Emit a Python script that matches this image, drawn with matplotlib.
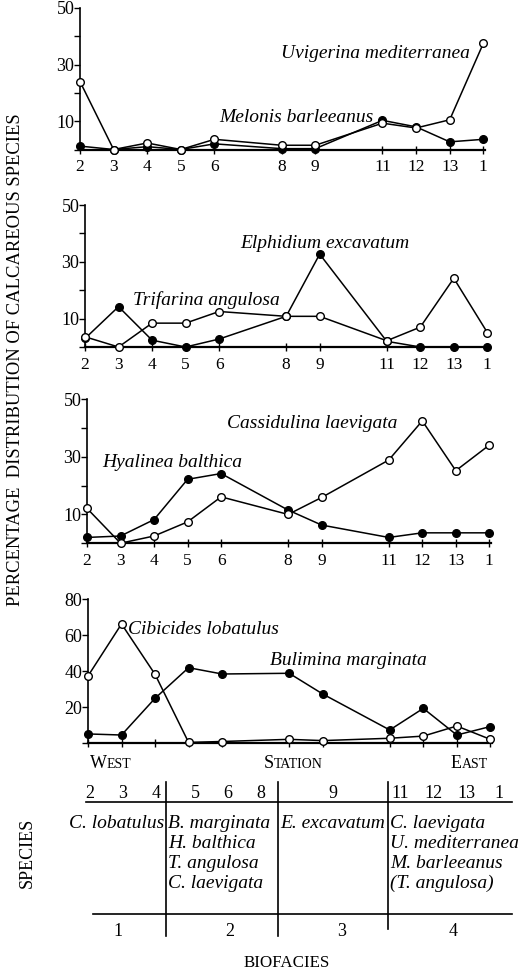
import matplotlib.pyplot as plt

plt.rcParams['font.family'] = ['Liberation Serif', 'DejaVu Serif']

# stations along the transect, west -> east (slot = position on the transect)
stations = ["2", "3", "4", "5", "6", "8", "9", "11", "12", "13", "1"]
slot = [0, 1, 2, 3, 4, 6, 7, 9, 10, 11, 12]

# percentages
uvigerina = [24, 0, 2.3, 0, 3.6, 1.5, 1.5, 9.3, 7.6, 10.5, 37.5]
melonis = [1.2, 0, 1, 0, 2, 0.3, 0.3, 10.3, 8, 2.7, 3.6]
trifarina = [3.6, 0, 8.4, 8.4, 12.5, 10.8, 10.8, 2.2, 7, 24.2, 5.1]
elphidium = [3, 14.2, 2.4, 0, 2.8, 10.8, 32.7, 2, 0, 0, 0]
cassidulina = [12.1, 0, 2.5, 7.4, 16.1, 10, 15.9, 28.9, 42.5, 25.2, 34.1]
hyalinea = [2, 2.5, 8.2, 22.2, 24.2, 11.5, 6.3, 2, 3.6, 3.6, 3.6]
cibicides = [37.4, 66.3, 38.3, 0.5, 1, 2.2, 1.5, 2.8, 4, 9.6, 2.2]
bulimina = [5.2, 4.6, 25, 42, 38.5, 38.9, 27.4, 7.4, 19.4, 4.6, 9.3]

# biofacies table
facies_stations = [["2", "3", "4"], ["5", "6", "8"], ["9"], ["11", "12", "13", "1"]]
facies_species = [["C. lobatulus"],
                  ["B. marginata", "H. balthica", "T. angulosa", "C. laevigata"],
                  ["E. excavatum"],
                  ["C. laevigata", "U. mediterranea", "M. barleeanus", "(T. angulosa)"]]
facies_names = ["1", "2", "3", "4"]

W, H = 521, 976
fig = plt.figure(figsize=(W / 100, H / 100), dpi=100)


def px_axes(left, right, top, bottom):
    return fig.add_axes([left / W, 1 - bottom / H, (right - left) / W, (bottom - top) / H])


def style(ax, ymax, ystep, labels, show_x=True):
    ax.set_xlim(0, 12.05)
    ax.set_ylim(0, ymax)
    for s in ['top', 'right']:
        ax.spines[s].set_visible(False)
    ax.spines['left'].set_linewidth(1.2)
    ax.spines['bottom'].set_linewidth(1.6)
    ax.set_yticks(list(range(0, ymax + 1, ystep)))
    ax.set_yticklabels(["" if v == 0 or v not in labels else str(v)
                        for v in range(0, ymax + 1, ystep)])
    ax.tick_params(axis='y', direction='out', length=4, width=1, pad=0, labelsize=13)
    ax.set_xticks(slot)
    ax.set_xticklabels(stations if show_x else [])
    ax.tick_params(axis='x', direction='inout', length=6, width=1, pad=4, labelsize=12.5)
    ax.patch.set_alpha(0)


def series(ax, vals, filled):
    ax.plot(slot, vals, color='black', lw=1.1, marker='o', ms=5.5, mew=1,
            mfc='black' if filled else 'white', mec='black', clip_on=False, zorder=3)


lab = dict(fontsize=14, style='italic', va='center')

ax1 = px_axes(80, 485, 8, 149.5)
style(ax1, 50, 10, [10, 30, 50])
series(ax1, melonis, True)
series(ax1, uvigerina, False)
ax1.text(11.6, 33.9, "Uvigerina mediterranea", ha='right', **lab)
ax1.text(4.15, 11.4, "Melonis barleeanus", ha='left', **lab)

ax2 = px_axes(85, 489, 205, 347)
style(ax2, 50, 10, [10, 30, 50])
series(ax2, elphidium, True)
series(ax2, trifarina, False)
ax2.text(4.64, 36.6, "Elphidium excavatum", ha='left', **lab)
ax2.text(1.44, 16.7, "Trifarina angulosa", ha='left', **lab)

ax3 = px_axes(87, 491, 399.3, 543.2)
style(ax3, 50, 10, [10, 30, 50])
series(ax3, hyalinea, True)
series(ax3, cassidulina, False)
ax3.text(4.19, 41.7, "Cassidulina laevigata", ha='left', **lab)
ax3.text(0.45, 28.2, "Hyalinea balthica", ha='left', **lab)

ax4 = px_axes(88, 492, 599.3, 743.3)
style(ax4, 80, 20, [20, 40, 60, 80], show_x=False)
series(ax4, bulimina, True)
series(ax4, cibicides, False)
ax4.text(1.19, 63, "Cibicides lobatulus", ha='left', **lab)
ax4.text(5.43, 45.9, "Bulimina marginata", ha='left', **lab)

fig.text(16 / W, 1 - 360 / H, "PERCENTAGE  DISTRIBUTION OF CALCAREOUS SPECIES",
         rotation=90, ha='center', va='center', fontsize=13.4)

# overlay in pixel coordinates for the table and direction labels
tb = fig.add_axes([0, 0, 1, 1])
tb.set_xlim(0, W)
tb.set_ylim(H, 0)
tb.axis('off')
tb.patch.set_alpha(0)

for big, rest, x0 in [("W", "EST", 107), ("S", "TATION", 274), ("E", "AST", 462)]:
    tb.text(x0, 768, big, ha='right', va='baseline', fontsize=13)
    tb.text(x0, 768, rest, ha='left', va='baseline', fontsize=10)

bounds = [86, 166, 278, 388, 512]
num_centers = [123, 228, 333, 449.5]
fac_centers = [118, 230, 342, 453]

tb.plot([86, 512], [801.7, 801.7], color='black', lw=1.2)
tb.plot([93, 512], [914, 914], color='black', lw=1.2)
for xb, yb in zip(bounds[1:4], [936, 936, 929]):
    tb.plot([xb, xb], [782, yb], color='black', lw=1.2)

for i, grp in enumerate(facies_stations):
    n = len(grp)
    for j, s in enumerate(grp):
        tb.text(num_centers[i] + (j - (n - 1) / 2) * 33, 793, s,
                ha='center', va='center', fontsize=13)
    for k, sp in enumerate(facies_species[i]):
        if i == 0:
            tb.text(bounds[1] - 2, 823 + 20.2 * k, sp, ha='right', va='center',
                    fontsize=14, style='italic')
        else:
            tb.text(bounds[i] + 2, 823 + 20.2 * k, sp, ha='left', va='center',
                    fontsize=14, style='italic')
    tb.text(fac_centers[i], 932, facies_names[i], ha='center', va='center', fontsize=13)

tb.text(27, 853, "SPECIES", rotation=90, ha='center', va='center', fontsize=13)
tb.text(287, 963, "BIOFACIES", ha='center', va='center', fontsize=12.2)

fig.savefig("out.png", dpi=100)
